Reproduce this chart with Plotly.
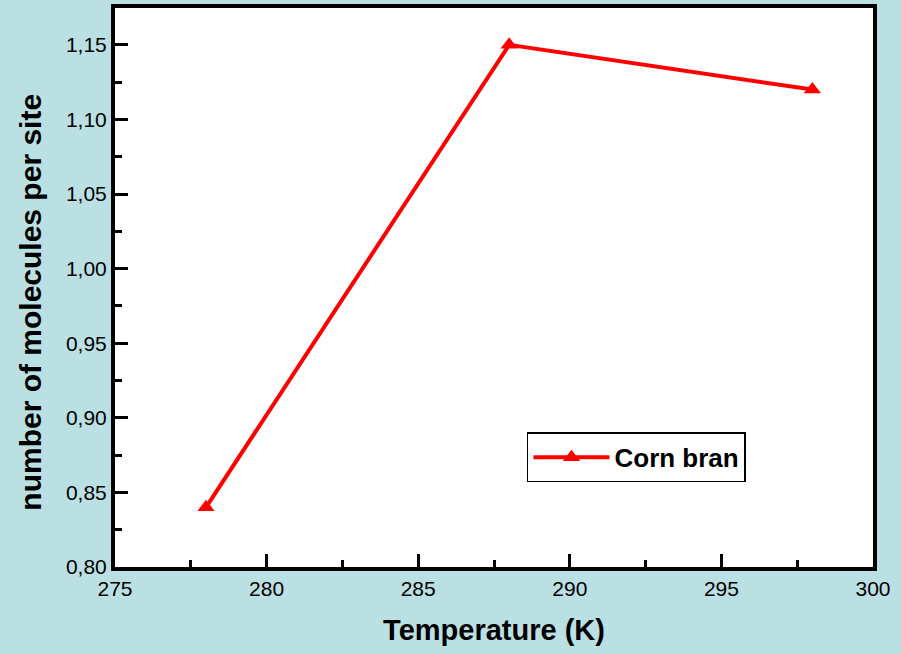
import plotly.graph_objects as go

# Adsorption data for corn bran
temperature_k = [278, 288, 298]
molecules_per_site = [0.84, 1.15, 1.12]
series_name = "<b>Corn bran</b>"

x_ticks = [275, 280, 285, 290, 295, 300]
y_ticks = [0.80, 0.85, 0.90, 0.95, 1.00, 1.05, 1.10, 1.15]

FONT = "Liberation Sans, Arial"

fig = go.Figure()
fig.add_trace(go.Scatter(
    x=temperature_k, y=molecules_per_site, name=series_name,
    mode="lines+markers",
    line=dict(color="#ff0000", width=4),
    marker=dict(symbol="triangle-up", size=15, color="#ff0000"),
))

axis_common = dict(
    showline=True, linecolor="black", linewidth=4, mirror=True,
    ticks="inside", ticklen=13, tickwidth=3, tickcolor="black",
    showgrid=False, zeroline=False,
    tickfont=dict(family=FONT, size=21, color="black"),
)

fig.update_xaxes(
    range=[275, 300], tickvals=x_ticks,
    minor=dict(ticks="inside", ticklen=7, tickwidth=3, tickcolor="black", dtick=2.5),
    title=dict(text="<b>Temperature (K)</b>", font=dict(family=FONT, size=29, color="black"), standoff=21),
    **axis_common,
)
fig.update_yaxes(
    range=[0.80, 1.1747], tickvals=y_ticks, tickformat=".2f",
    minor=dict(ticks="inside", ticklen=7, tickwidth=3, tickcolor="black", dtick=0.025),
    **axis_common,
)

# Y-axis title placed as a rotated annotation
fig.add_annotation(
    text="<b>number of molecules per site</b>",
    xref="paper", yref="paper", x=-0.112, y=0.473,
    xanchor="center", yanchor="middle", textangle=-90, showarrow=False,
    font=dict(family=FONT, size=30, color="black"),
)

fig.update_layout(
    width=901, height=654,
    separators=",.",
    paper_bgcolor="#bbe0e3", plot_bgcolor="white",
    margin=dict(l=115, r=28, t=4, b=87),
    showlegend=True,
    legend=dict(
        x=0.5435, y=0.196, xanchor="left", yanchor="middle",
        bgcolor="white", bordercolor="black", borderwidth=1.5,
        font=dict(family=FONT, size=26, color="black"),
        itemwidth=76,
    ),
)

fig.write_html("out.html")
